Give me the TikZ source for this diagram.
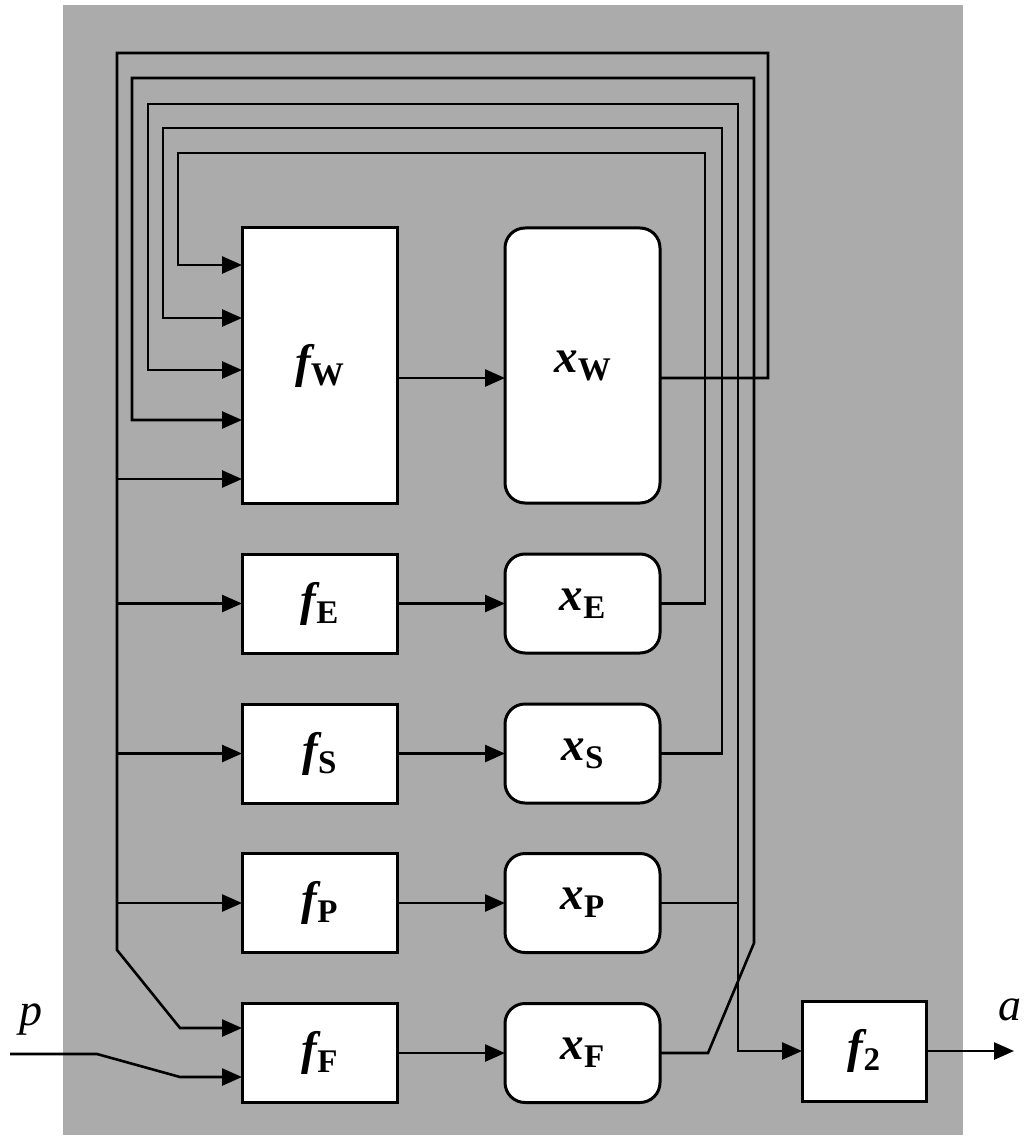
\documentclass[tikz,border=0pt]{standalone}
\usepackage{fontspec}
\setmainfont{Liberation Serif}
\usetikzlibrary{arrows.meta}
\definecolor{bg}{gray}{0.67}
\newcommand\lab[2]{\fontsize{47}{47}\selectfont\bfseries\itshape #1\raisebox{-8pt}{\fontsize{33}{33}\selectfont\upshape #2}}
\begin{document}
\begin{tikzpicture}[x=1pt,y=-1pt,
  fbox/.style={draw, line width=3pt, fill=white, inner sep=0pt, outer sep=0pt, minimum width=155pt},
  xbox/.style={fbox, rounded corners=20pt},
  conn/.style={line width=2.6pt, -{Triangle[length=20pt,width=17pt]}}]
\useasboundingbox (0,0) rectangle (1028,1139);
\fill[bg] (63,5) rectangle (963,1135);
% boxes
\node[fbox, minimum height=275pt] (fW) at (319.5,365.5) {\lab{f}{W}};
\node[xbox, minimum height=275pt] (xW) at (582.5,365.5) {\lab{x}{W}};
\node[fbox, minimum height=99pt] (fE) at (319.5,603.5) {\lab{f}{E}};
\node[xbox, minimum height=99pt] (xE) at (582.5,603.5) {\lab{x}{E}};
\node[fbox, minimum height=99pt] (fS) at (319.5,753.5) {\lab{f}{S}};
\node[xbox, minimum height=99pt] (xS) at (582.5,753.5) {\lab{x}{S}};
\node[fbox, minimum height=99pt] (fP) at (319.5,903) {\lab{f}{P}};
\node[xbox, minimum height=99pt] (xP) at (582.5,903) {\lab{x}{P}};
\node[fbox, minimum height=99pt] (fF) at (319.5,1053) {\lab{f}{F}};
\node[xbox, minimum height=99pt] (xF) at (582.5,1053) {\lab{x}{F}};
\node[fbox, minimum width=124pt, minimum height=100pt] (f2) at (864,1051) {\lab{f}{2}};
% labels
\node[font=\fontsize{46}{46}\selectfont\itshape] (plab) at (31,1020) {p};
\node[font=\fontsize{46}{46}\selectfont\itshape] (alab) at (1010,1010) {a};
\coordinate (pin) at (10,1054);
\coordinate (aout) at (1014,1051);
\coordinate (jP) at (738,903);
% forward arrows
\draw[conn] ([yshift=-12.5pt]fW.east) -- ([yshift=-12.5pt]xW.west);
\draw[conn] (fE) -- (xE);
\draw[conn] (fS) -- (xS);
\draw[conn] (fP) -- (xP);
\draw[conn] (fF) -- (xF);
% feedback loops
\draw[conn] (xE.east) -| (705,153) -| (178,265) -- (fW.west |- 0,265);
\draw[conn] (xS.east) -| (722,128) -| (163,318) -- (fW.west |- 0,318);
\draw[conn] (xP.east) -| (738,104) -| (148,370) -- (fW.west |- 0,370);
\draw[conn] (jP) |- (f2.west);
\draw[conn] (xF.east) -- (708,1053) -- (754,943) -- (754,78) -| (132,420) -- (fW.west |- 0,420);
\draw[conn] ([yshift=-12.5pt]xW.east) -| (768,53) -| (117,950) -- (180,1028) -- (fF.west |- 0,1028);
\draw[conn] (117,479) -- (fW.west |- 0,479);
\draw[conn] (117,603.5) -- (fE.west);
\draw[conn] (117,753.5) -- (fS.west);
\draw[conn] (117,903) -- (fP.west);
% input and output
\draw[conn] (pin) -- (97,1054) -- (180,1077) -- (fF.west |- 0,1077);
\draw[conn] (f2.east) -- (aout);
\end{tikzpicture}
\end{document}
